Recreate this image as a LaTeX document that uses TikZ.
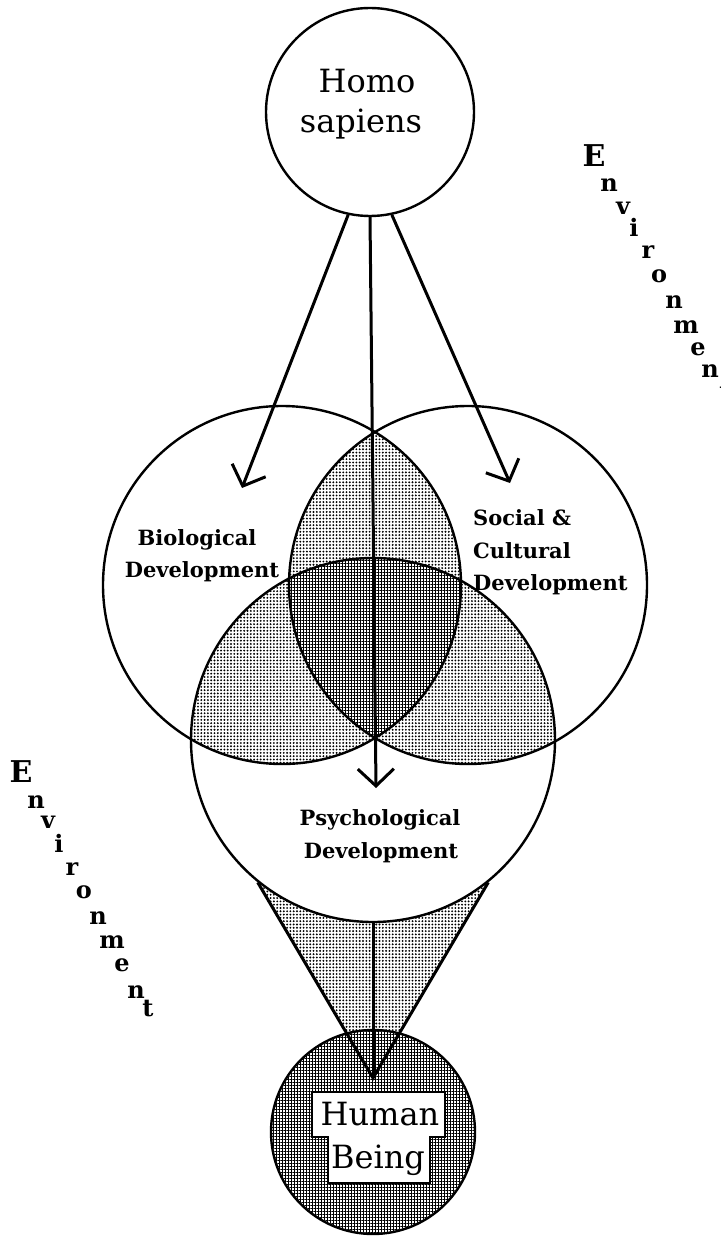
\documentclass[tikz,border=0pt]{standalone}
\usepackage{fontspec}
\setmainfont{DejaVu Serif}
\usetikzlibrary{patterns.meta,arrows.meta}
\tikzset{
  ring/.style={draw=black, line width=2.4pt},
  sparse/.style={pattern={Dots[distance=3.3pt, radius=1.05pt]}, pattern color=black},
  dense/.style={pattern={Hatch[distance=3pt, line width=0.7pt]}, pattern color=black},
  flow/.style={draw=black, line width=3pt, -{Straight Barb[length=17pt, width=36pt]}},
  bar/.style={draw=black, line width=3pt},
  bigtext/.style={font=\fontsize{32}{36}\selectfont, inner sep=0pt, anchor=base},
  lbl/.style={font=\bfseries\fontsize{21}{24}\selectfont, inner sep=0pt, anchor=base},
  envl/.style={font=\bfseries\fontsize{24}{24}\selectfont, inner sep=0pt},
  envE/.style={font=\bfseries\fontsize{30}{30}\selectfont, inner sep=0pt},
}
\begin{document}
\begin{tikzpicture}[x=1pt, y=-1pt]
\useasboundingbox (0,0) rectangle (720,1238);
% ---- geometry
\coordinate (cL) at (282,585);
\coordinate (cR) at (468,585);
\coordinate (cP) at (373,740);
\coordinate (apex) at (373,1078);
% ---- funnel shading
\fill[sparse] (258,882) -- (apex) -- (487,883) -- cycle;
\fill[white] (cP) circle (182);
% ---- Venn shading
\begin{scope}
  \clip (cL) circle (179);
  \fill[sparse] (cR) circle (179);
  \fill[sparse] (cP) circle (182);
\end{scope}
\begin{scope}
  \clip (cR) circle (179);
  \fill[sparse] (cP) circle (182);
\end{scope}
\begin{scope}
  \clip (cL) circle (179);
  \clip (cR) circle (179);
  \fill[white] (cP) circle (182);
  \fill[dense] (cP) circle (182);
\end{scope}
% ---- nodes (circles)
\node[circle, ring, minimum size=208pt, inner sep=0pt] (top) at (370,112) {};
\node[circle, ring, minimum size=358pt, inner sep=0pt] (bio) at (cL) {};
\node[circle, ring, minimum size=358pt, inner sep=0pt] (soc) at (cR) {};
\node[circle, ring, minimum size=364pt, inner sep=0pt] (psy) at (cP) {};
\node[circle, ring, fill=white, minimum size=204pt, inner sep=0pt] (human) at (373,1132) {};
\fill[dense] (human.center) circle (101);
% ---- funnel lines
\draw[bar] (psy.-129) -- (apex) -- (psy.-51);
\draw[bar] (psy.south) -- (apex);
% ---- arrows
\coordinate (bioTip) at (242,488);
\coordinate (socTip) at (510,483);
\coordinate (psyTip) at (376,788);
\draw[flow] (top.-102) -- (bioTip);
\draw[flow] (top.south) -- (psyTip);
\draw[flow] (top.-78) -- (socTip);
% ---- Human Being box
\draw[fill=white, line width=2.4pt] (312,1092) -- (445,1092) -- (445,1137) -- (430,1137)
  -- (430,1183) -- (328,1183) -- (328,1137) -- (312,1137) -- cycle;
% ---- texts
\node[bigtext] (hs1) at (367,93) {Homo};
\node[bigtext] (hs2) at (361,133) {sapiens};
\node[bigtext] (hb1) at (380,1125) {Human};
\node[bigtext] (hb2) at (378,1168) {Being};
\node[lbl] (b1) at (197,545) {Biological};
\node[lbl] (b2) at (202,577) {Development};
\node[lbl, anchor=base west] (s1) at (473,525) {Social \&};
\node[lbl, anchor=base west] (s2) at (473,558) {Cultural};
\node[lbl, anchor=base west] (s3) at (473,590) {Development};
\node[lbl] (p1) at (380,825) {Psychological};
\node[lbl] (p2) at (381,858) {Development};
% ---- Environment (right)
\node[envE] (rE) at (594,156) {E};
\node[envl] (rn1) at (609,185) {n};
\node[envl] (rv) at (623,208) {v};
\node[envl] (ri) at (634,227) {i};
\node[envl] (rr) at (648,252) {r};
\node[envl] (ro) at (659,276) {o};
\node[envl] (rn2) at (674,302) {n};
\node[envl] (rm) at (686,327) {m};
\node[envl] (re) at (698,349) {e};
\node[envl] (rn3) at (710,371) {n};
\node[envl] (rt) at (725,392) {t};
% ---- Environment (left)
\node[envE] (lE) at (21,772) {E};
\node[envl] (ln1) at (36,802) {n};
\node[envl] (lv) at (48,822) {v};
\node[envl] (li) at (59,843) {i};
\node[envl] (lr) at (72,869) {r};
\node[envl] (lo) at (84,892) {o};
\node[envl] (ln2) at (98,918) {n};
\node[envl] (lm) at (112,942) {m};
\node[envl] (le) at (122,965) {e};
\node[envl] (ln3) at (136,992) {n};
\node[envl] (lt) at (148,1008) {t};
\end{tikzpicture}
\end{document}
